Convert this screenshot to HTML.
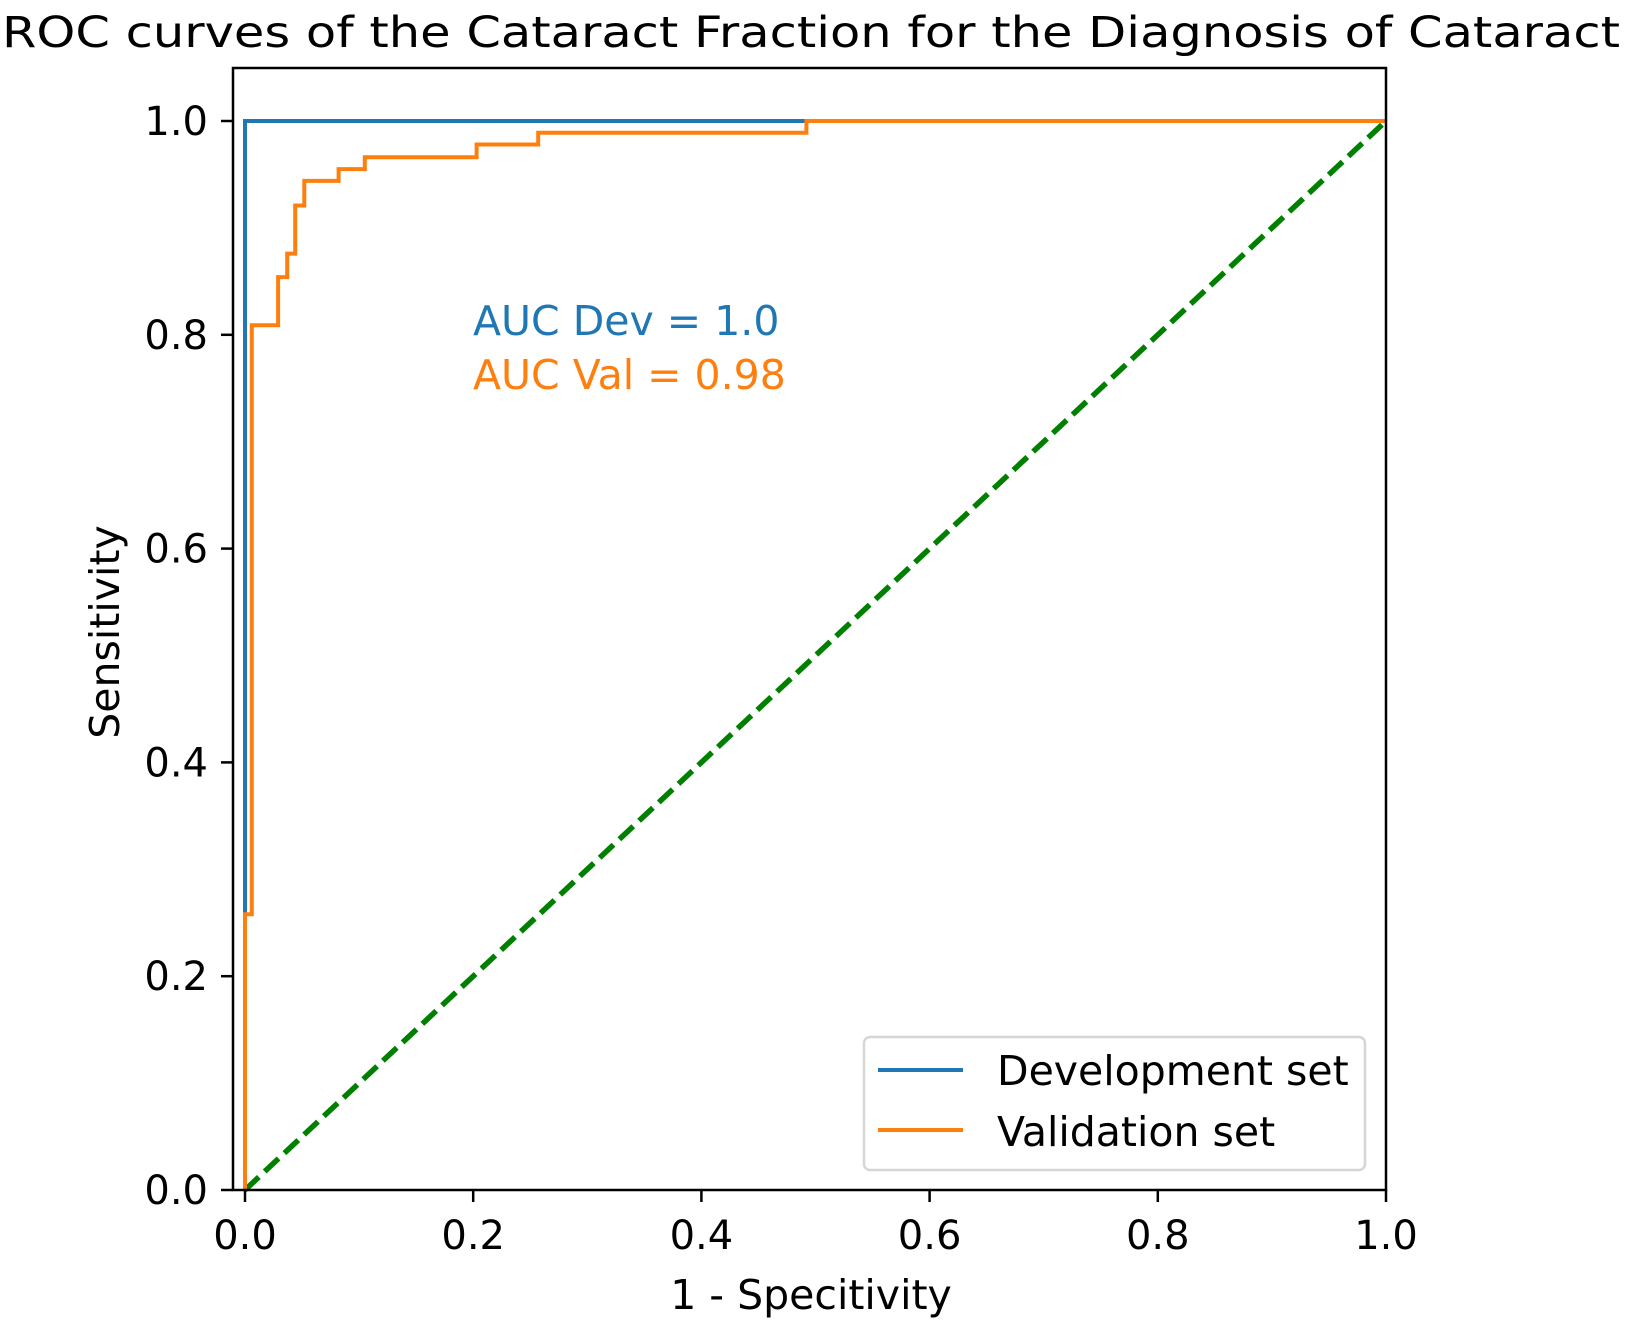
<!DOCTYPE html>
<html><head><meta charset="utf-8"><style>
html,body{margin:0;padding:0;background:#fff;}
svg{display:block;font-family:"DejaVu Sans","Liberation Sans",sans-serif;}
</style></head><body>
<svg id="chart" width="1625" height="1320" viewBox="0 0 1625 1320" xmlns="http://www.w3.org/2000/svg">
<rect width="1625" height="1320" fill="#fff"/>
<text x="811" y="47" font-size="43" text-anchor="middle" textLength="1618" lengthAdjust="spacingAndGlyphs">ROC curves of the Cataract Fraction for the Diagnosis of Cataract</text>
<g id="plot"></g>
<rect x="233" y="68" width="1153" height="1122" fill="none" stroke="#000" stroke-width="2.5"/>
<text x="473" y="335" font-size="41" fill="#1f77b4">AUC Dev = 1.0</text>
<text x="473" y="389" font-size="41" fill="#ff7f0e">AUC Val = 0.98</text>
<g>
<rect x="864" y="1037" width="501" height="133" rx="6" fill="#fff" fill-opacity="0.8" stroke="#d6d6d6" stroke-width="2.5"/>
<line x1="878" y1="1070" x2="963" y2="1070" stroke="#1f77b4" stroke-width="4"/>
<text x="997" y="1085" font-size="41">Development set</text>
<line x1="878" y1="1130" x2="963" y2="1130" stroke="#ff7f0e" stroke-width="4"/>
<text x="997" y="1146" font-size="41">Validation set</text>
</g>
<text x="811" y="1309" font-size="41" text-anchor="middle">1 - Specitivity</text>
<text x="0" y="0" font-size="41" text-anchor="middle" transform="translate(119,632) rotate(-90)">Sensitivity</text>
</svg>
<script>
const xTicks = [0.0, 0.2, 0.4, 0.6, 0.8, 1.0];
const yTicks = [0.0, 0.2, 0.4, 0.6, 0.8, 1.0];
const tickLabels = ["0.0", "0.2", "0.4", "0.6", "0.8", "1.0"];
const devFpr = [0, 0, 0, 0.49, 1.0];
const devTpr = [0, 0.26, 1.0, 1.0, 1.0];
const valFpr = [0, 0, 0.006, 0.006, 0.029, 0.029, 0.037, 0.037, 0.044, 0.044, 0.052, 0.052, 0.082, 0.082, 0.105, 0.105, 0.203, 0.203, 0.257, 0.257, 0.492, 0.492, 1.0];
const valTpr = [0, 0.258, 0.258, 0.809, 0.809, 0.854, 0.854, 0.876, 0.876, 0.921, 0.921, 0.944, 0.944, 0.955, 0.955, 0.966, 0.966, 0.978, 0.978, 0.989, 0.989, 1.0, 1.0];
const chanceX = [0, 1];
const chanceY = [0, 1];

const NS = "http://www.w3.org/2000/svg";
const X0 = 245, X1 = 1386, Y0 = 1190, Y1 = 121;
function sx(v){ return X0 + v * (X1 - X0); }
function sy(v){ return Y0 - v * (Y0 - Y1); }
const plot = document.getElementById('plot');
const svg = document.getElementById('chart');
function mk(tag, attrs, parent){
  const e = document.createElementNS(NS, tag);
  for (const k in attrs) e.setAttribute(k, attrs[k]);
  (parent || plot).appendChild(e);
  return e;
}
function pts(xs, ys){ return xs.map((x,i)=>sx(x).toFixed(1)+','+sy(ys[i]).toFixed(1)).join(' '); }

const chance = mk('polyline', {points: pts(chanceX, chanceY), fill:'none', stroke:'#008000', 'stroke-width':5.5, 'stroke-dasharray':'19,8'});


const dev = mk('polyline', {points: pts(devFpr, devTpr), fill:'none', stroke:'#1f77b4', 'stroke-width':4});


const val = mk('polyline', {points: pts(valFpr, valTpr), fill:'none', stroke:'#ff7f0e', 'stroke-width':4});



xTicks.forEach((t,i)=>{
  const g = mk('g', {}, svg);
  
  
  mk('line', {x1:sx(t), x2:sx(t), y1:1190, y2:1202, stroke:'#000', 'stroke-width':2.5}, g);
  const tx = mk('text', {x:sx(t), y:1249, 'font-size':40, 'text-anchor':'middle'}, g);
  tx.textContent = tickLabels[i];
});
yTicks.forEach((t,i)=>{
  const g = mk('g', {}, svg);
  
  
  mk('line', {x1:221, x2:233, y1:sy(t), y2:sy(t), stroke:'#000', 'stroke-width':2.5}, g);
  const tx = mk('text', {x:208, y:sy(t)+14, 'font-size':40, 'text-anchor':'end'}, g);
  tx.textContent = tickLabels[i];
});
</script>
</body></html>
